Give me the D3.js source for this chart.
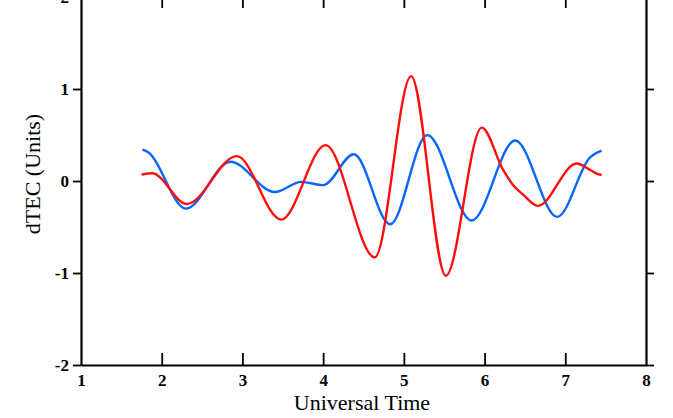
<!DOCTYPE html>
<html>
<head>
<meta charset="utf-8">
<script src="https://cdn.jsdelivr.net/npm/d3@7"></script>
<style>
  html, body { margin: 0; padding: 0; background: #fff; }
  svg { display: block; }
  .tick-label { font-family: "Liberation Serif", "Times New Roman", serif; font-weight: bold; font-size: 17px; fill: #000; }
  .axis-title { font-family: "Liberation Serif", "Times New Roman", serif; font-size: 22px; fill: #000; }
</style>
</head>
<body>
<svg id="chart" width="673" height="418"></svg>
<script>
// dTEC series, hours UT vs. TEC units
const blueTime  = [1.76, 1.82, 2.30, 2.85, 3.40, 3.73, 4.00, 4.38, 4.83, 5.29, 5.84, 6.38, 6.90, 7.31, 7.45];
const blueValue = [0.34, 0.32, -0.30, 0.21, -0.12, -0.01, -0.045, 0.29, -0.47, 0.50, -0.43, 0.44, -0.39, 0.26, 0.33];

const redTime  = [1.75, 1.88, 2.31, 2.93, 3.48, 4.03, 4.64, 5.09, 5.52, 5.965, 6.23, 6.35, 6.48, 6.66, 7.14, 7.31, 7.39, 7.45];
const redValue = [0.07, 0.085, -0.25, 0.27, -0.42, 0.39, -0.83, 1.14, -1.03, 0.58, 0.12, -0.04, -0.15, -0.27, 0.19, 0.12, 0.08, 0.065];

const xTicks = [1, 2, 3, 4, 5, 6, 7, 8];
const yTicks = [-2, -1, 0, 1, 2];

const svg = d3.select("#chart");
const plotLeft = 81, plotRight = 646, plotTop = -3, plotBottom = 365;

const x = d3.scaleLinear().domain([1, 8]).range([plotLeft, plotRight]);
const y = d3.scaleLinear().domain([-2, 2]).range([plotBottom, plotTop]);

const plainFormat = d => String(d);

// Left axis: outward ticks with labels
const gl = svg.append("g").attr("transform", `translate(${plotLeft},0)`)
  .call(d3.axisLeft(y).tickValues(yTicks).tickSize(8).tickSizeOuter(0).tickPadding(4).tickFormat(plainFormat));
// Right axis: outward ticks, no labels
const gr = svg.append("g").attr("transform", `translate(${plotRight},0)`)
  .call(d3.axisRight(y).tickValues(yTicks).tickSize(8).tickSizeOuter(0).tickFormat(""));
// Bottom axis: inward ticks with labels below
const gb = svg.append("g").attr("transform", `translate(0,${plotBottom})`)
  .call(d3.axisBottom(x).tickValues(xTicks).tickSize(-12).tickSizeOuter(0).tickPadding(7).tickFormat(plainFormat));
// Top axis: inward ticks, no labels
const gt = svg.append("g").attr("transform", `translate(0,${plotTop})`)
  .call(d3.axisTop(x).tickValues(xTicks).tickSize(-11).tickSizeOuter(0).tickFormat(""));

[gl, gr, gb, gt].forEach(g => {
  g.attr("font-size", null).attr("font-family", null);
  g.select(".domain").attr("stroke", "#000").attr("stroke-width", 2.2);
  g.selectAll(".tick line").attr("stroke", "#000").attr("stroke-width", 1.8);
  g.selectAll(".tick text").attr("class", "tick-label");
});
gb.selectAll(".tick text").attr("dy", "0.8em");
gb.selectAll(".tick").filter(d => d === 1 || d === 8).select("line").remove();
gt.selectAll(".tick").filter(d => d === 1 || d === 8).select("line").remove();

// Curves
const line = d3.line().x(d => x(d[0])).y(d => y(d[1])).curve(d3.curveMonotoneX);
const blue = blueTime.map((t, i) => [t, blueValue[i]]);
const red = redTime.map((t, i) => [t, redValue[i]]);

svg.append("path").datum(blue).attr("d", line)
  .attr("fill", "none").attr("stroke", "#0a64ff").attr("stroke-width", 2.4);
svg.append("path").datum(red).attr("d", line)
  .attr("fill", "none").attr("stroke", "#ff0d0d").attr("stroke-width", 2.4);

// Axis titles
svg.append("text").attr("class", "axis-title")
  .attr("x", 362).attr("y", 410).attr("text-anchor", "middle")
  .text("Universal Time");
svg.append("text").attr("class", "axis-title")
  .attr("transform", `translate(40,174) rotate(-90)`).attr("text-anchor", "middle")
  .text("dTEC (Units)");
</script>
</body>
</html>
